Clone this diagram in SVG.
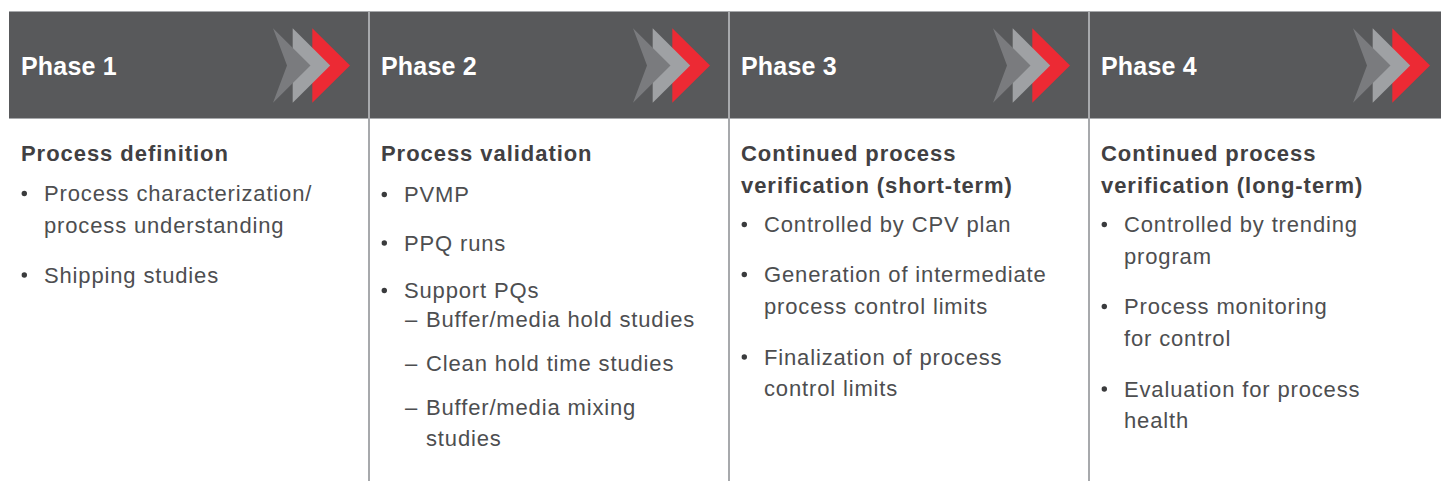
<svg xmlns="http://www.w3.org/2000/svg" xmlns:xlink="http://www.w3.org/1999/xlink" width="1441" height="481" viewBox="0 0 1441 481">
<style>
.hdr{fill:#58595b}
.bline{stroke:#a7a9ac;stroke-width:1}
.sep{stroke:#a7a9ac;stroke-width:2}
.ph{font-family:"Liberation Sans",Arial,sans-serif;font-weight:bold;font-size:25px;letter-spacing:0.2px;fill:#ffffff}
.ttl{font-family:"Liberation Sans",Arial,sans-serif;font-weight:bold;font-size:22px;letter-spacing:0.95px;fill:#414042}
.txt{font-family:"Liberation Sans",Arial,sans-serif;font-size:22px;letter-spacing:0.85px;fill:#4d4e50}
.dot{fill:#3a3b3d}
</style>
<defs>
<g id="chev">
<polygon points="312.3,28.3 350,65.5 312.3,102.7" fill="#ec2a34"/>
<polygon points="292.7,28.3 330.2,65.5 292.7,102.7" fill="#9fa1a4"/>
<polygon points="273,28.3 310.5,65.5 273,102.7 287,65.5" fill="#7a7b7e"/>
</g>
</defs>
<rect id="background" x="0" y="0" width="1441" height="481" fill="#ffffff"/>
<g id="header">
<rect class="hdr" x="9" y="11" width="1432" height="108"/>
<line class="bline" x1="9" y1="11.5" x2="1441" y2="11.5"/>
<line class="bline" x1="9" y1="118.5" x2="1441" y2="118.5"/>
</g>
<g id="connectors"></g>
<g id="separators">
<line class="sep" x1="369" y1="11" x2="369" y2="481"/>
<line class="sep" x1="729" y1="11" x2="729" y2="481"/>
<line class="sep" x1="1089" y1="11" x2="1089" y2="481"/>
</g>
<g id="phase1">
<text class="ph" x="21" y="75">Phase 1</text>
<use xlink:href="#chev" href="#chev"/>
<text class="ttl" x="21" y="161">Process definition</text>
<circle class="dot" cx="24.3" cy="193.5" r="2.7"/>
<text class="txt" x="44" y="201">Process characterization/</text>
<text class="txt" x="44" y="232.5">process understanding</text>
<circle class="dot" cx="24.3" cy="275" r="2.7"/>
<text class="txt" x="44" y="282.5">Shipping studies</text>
</g>
<g id="phase2">
<text class="ph" x="381" y="75">Phase 2</text>
<use xlink:href="#chev" href="#chev" transform="translate(360,0)"/>
<text class="ttl" x="381" y="161">Process validation</text>
<circle class="dot" cx="384.3" cy="194.5" r="2.7"/>
<text class="txt" x="404" y="202">PVMP</text>
<circle class="dot" cx="384.3" cy="243" r="2.7"/>
<text class="txt" x="404" y="250.5">PPQ runs</text>
<circle class="dot" cx="384.3" cy="290.5" r="2.7"/>
<text class="txt" x="404" y="298">Support PQs</text>
<text class="txt" x="405" y="327">–</text>
<text class="txt" x="426" y="327">Buffer/media hold studies</text>
<text class="txt" x="405" y="371">–</text>
<text class="txt" x="426" y="371">Clean hold time studies</text>
<text class="txt" x="405" y="415">–</text>
<text class="txt" x="426" y="415">Buffer/media mixing</text>
<text class="txt" x="426" y="446">studies</text>
</g>
<g id="phase3">
<text class="ph" x="741" y="75">Phase 3</text>
<use xlink:href="#chev" href="#chev" transform="translate(720,0)"/>
<text class="ttl" x="741" y="161">Continued process</text>
<text class="ttl" x="741" y="193">verification (short-term)</text>
<circle class="dot" cx="744.3" cy="224.5" r="2.7"/>
<text class="txt" x="764" y="232">Controlled by CPV plan</text>
<circle class="dot" cx="744.3" cy="274.5" r="2.7"/>
<text class="txt" x="764" y="282">Generation of intermediate</text>
<text class="txt" x="764" y="313.5">process control limits</text>
<circle class="dot" cx="744.3" cy="357" r="2.7"/>
<text class="txt" x="764" y="364.5">Finalization of process</text>
<text class="txt" x="764" y="396">control limits</text>
</g>
<g id="phase4">
<text class="ph" x="1101" y="75">Phase 4</text>
<use xlink:href="#chev" href="#chev" transform="translate(1080,0)"/>
<text class="ttl" x="1101" y="161">Continued process</text>
<text class="ttl" x="1101" y="193">verification (long-term)</text>
<circle class="dot" cx="1104.3" cy="224.5" r="2.7"/>
<text class="txt" x="1124" y="232">Controlled by trending</text>
<text class="txt" x="1124" y="263.5">program</text>
<circle class="dot" cx="1104.3" cy="306.5" r="2.7"/>
<text class="txt" x="1124" y="314">Process monitoring</text>
<text class="txt" x="1124" y="345.5">for control</text>
<circle class="dot" cx="1104.3" cy="389" r="2.7"/>
<text class="txt" x="1124" y="396.5">Evaluation for process</text>
<text class="txt" x="1124" y="428">health</text>
</g>
</svg>
